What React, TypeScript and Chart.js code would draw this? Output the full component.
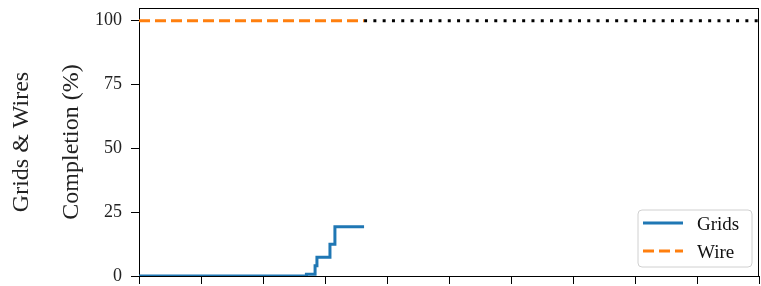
import React, { useEffect, useRef } from "react";
import { Chart, registerables } from "chart.js";

Chart.register(...registerables);

// ---- data ----
const gridsX = [0, 2.7, 2.84, 2.87, 3.08, 3.16, 3.63];
const gridsY = [0, 0.7, 4.0, 7.3, 12.4, 19.3, 19.3];
const wireX = [0, 3.63];
const wireY = [100, 100];
const targetX = [3.63, 10];
const targetY = [100, 100];
const yTicks = [0, 25, 50, 75, 100];
const xTicks = [0, 1, 2, 3, 4, 5, 6, 7, 8, 9, 10];
const legendLabels = ["Grids", "Wire"];
const yTitle = ["Grids & Wires", "Completion (%)"];

const BLUE = "#1f77b4";
const ORANGE = "#ff7f0e";
const FONT = '"Liberation Serif", "DejaVu Serif", serif';

const toPts = (xs: number[], ys: number[]) => xs.map((x, i) => ({ x, y: ys[i] }));

const framePlugin = {
  id: "frame",
  beforeDatasetsDraw(chart: any) {
    const { ctx, chartArea: a } = chart;
    ctx.save();
    ctx.strokeStyle = "#000";
    ctx.lineWidth = 1;
    ctx.strokeRect(Math.round(a.left) + 0.5, Math.round(a.top) + 0.5, Math.round(a.right - a.left) - 1, Math.round(a.bottom - a.top));
    ctx.restore();
  },
};

const legendPlugin = {
  id: "boxLegend",
  afterDraw(chart: any) {
    const { ctx, chartArea: a } = chart;
    const w = 114, h = 57;
    const x = a.right - 7 - w;
    const y = a.bottom - 9 - h;
    ctx.save();
    ctx.beginPath();
    const r = 4;
    ctx.moveTo(x + r, y);
    ctx.lineTo(x + w - r, y);
    ctx.quadraticCurveTo(x + w, y, x + w, y + r);
    ctx.lineTo(x + w, y + h - r);
    ctx.quadraticCurveTo(x + w, y + h, x + w - r, y + h);
    ctx.lineTo(x + r, y + h);
    ctx.quadraticCurveTo(x, y + h, x, y + h - r);
    ctx.lineTo(x, y + r);
    ctx.quadraticCurveTo(x, y, x + r, y);
    ctx.closePath();
    ctx.fillStyle = "rgba(255,255,255,0.8)";
    ctx.fill();
    ctx.strokeStyle = "#d0d0d0";
    ctx.lineWidth = 1;
    ctx.stroke();

    const colors = [BLUE, ORANGE];
    const dashes = [[], [11, 5]];
    const rows = [y + 13, y + 41];
    const baselines = [y + 20, y + 48];
    legendLabels.forEach((lab, i) => {
      ctx.beginPath();
      ctx.setLineDash(dashes[i]);
      ctx.strokeStyle = colors[i];
      ctx.lineWidth = 3;
      ctx.moveTo(x + 5, rows[i]);
      ctx.lineTo(x + 45, rows[i]);
      ctx.stroke();
      ctx.setLineDash([]);
      ctx.fillStyle = "#111";
      ctx.font = `19px ${FONT}`;
      ctx.textBaseline = "alphabetic";
      ctx.textAlign = "left";
      ctx.fillText(lab, x + 59, baselines[i]);
    });
    ctx.restore();
  },
};

export default function App() {
  const ref = useRef<HTMLCanvasElement>(null);
  useEffect(() => {
    if (!ref.current) return;
    const chart = new Chart(ref.current, {
      type: "line",
      data: {
        datasets: [
          {
            label: legendLabels[0],
            data: toPts(gridsX, gridsY),
            borderColor: BLUE,
            borderWidth: 3,
            stepped: "before",
            pointRadius: 0,
            fill: false,
          },
          {
            label: legendLabels[1],
            data: toPts(wireX, wireY),
            borderColor: ORANGE,
            borderWidth: 3,
            borderDash: [11, 5],
            pointRadius: 0,
            fill: false,
          },
          {
            label: "",
            data: toPts(targetX, targetY),
            borderColor: "#000",
            borderWidth: 3,
            borderDash: [3, 6.3],
            pointRadius: 0,
            fill: false,
          },
        ],
      },
      options: {
        animation: false,
        responsive: false,
        devicePixelRatio: 1,
        layout: { padding: { top: 8, right: 2, left: 0, bottom: 0 } },
        plugins: {
          legend: { display: false },
          tooltip: { enabled: false },
        },
        scales: {
          x: {
            type: "linear",
            min: 0,
            max: 10,
            afterFit: (s: any) => {
              s.height = 10;
              s.paddingLeft = 0;
              s.paddingRight = 0;
              s.paddingTop = 0;
              s.paddingBottom = 0;
            },
            afterBuildTicks: (s: any) => {
              s.ticks = xTicks.map((v) => ({ value: v }));
            },
            ticks: { display: false },
            grid: {
              display: true,
              drawOnChartArea: false,
              drawTicks: true,
              tickLength: 8,
              color: "#000",
              tickWidth: 1,
            },
            border: { display: true, color: "#000", width: 1 },
          },
          y: {
            type: "linear",
            min: 0,
            max: 105,
            afterFit: (s: any) => {
              s.width = 139;
              s.paddingTop = 0;
              s.paddingBottom = 0;
              s.paddingLeft = 0;
              s.paddingRight = 0;
            },
            afterBuildTicks: (s: any) => {
              s.ticks = yTicks.map((v) => ({ value: v }));
            },
            ticks: {
              color: "#222",
              padding: 9,
              font: { family: FONT, size: 18 },
            },
            grid: {
              display: true,
              drawOnChartArea: false,
              drawTicks: true,
              tickLength: 8,
              color: "#000",
              tickWidth: 1,
            },
            border: { display: true, color: "#000", width: 1 },
            title: {
              display: true,
              text: yTitle,
              color: "#222",
              font: { family: FONT, size: 24, lineHeight: 2.08 },
              padding: { top: -3, bottom: 0 },
            },
          },
        },
      },
      plugins: [framePlugin, legendPlugin],
    });
    return () => chart.destroy();
  }, []);
  return (
    <div style={{ position: "fixed", left: 0, top: 0, width: 761, height: 286, background: "#fff" }}>
      <canvas ref={ref} width={761} height={286} style={{ display: "block", width: 761, height: 286 }} />
    </div>
  );
}
